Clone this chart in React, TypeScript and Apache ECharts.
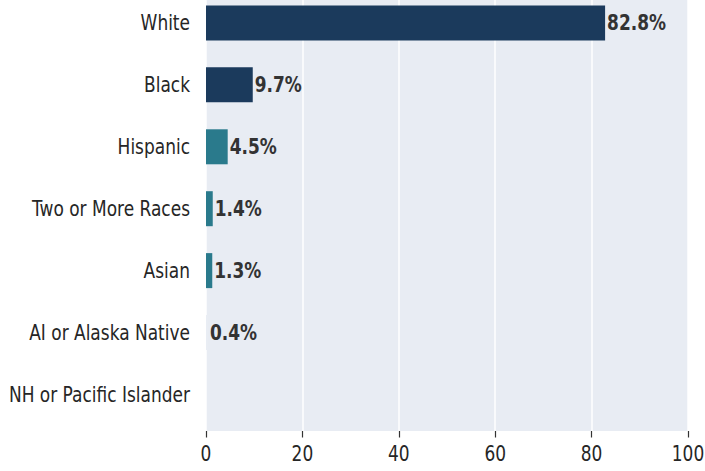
import React, { useEffect, useRef } from "react";
import * as echarts from "echarts";

const categories = [
  "White",
  "Black",
  "Hispanic",
  "Two or More Races",
  "Asian",
  "AI or Alaska Native",
  "NH or Pacific Islander",
];
const values = [82.8, 9.7, 4.5, 1.4, 1.3, 0.4, 0];
const barColors = ["#1b3a5c", "#1b3a5c", "#2a7a8c", "#2a7a8c", "#2a7a8c", "#e9edf4", "#e9edf4"];
const xTicks = [0, 20, 40, 60, 80, 100];

const W = 705;
const H = 471;
const SY = 1.27; // vertical stretch of the reference picture
const IH = H / SY;
const v = (px: number) => px / SY;

export default function App() {
  const ref = useRef<HTMLDivElement>(null);
  useEffect(() => {
    if (!ref.current) return;
    const chart = echarts.init(ref.current, undefined, { renderer: "svg" });
    const font = "DejaVu Sans";
    chart.setOption({
      animation: false,
      grid: [
        {
          left: 206,
          right: 17,
          top: v(-13.5),
          height: v(444.5),
          show: true,
          backgroundColor: "#e8ecf3",
          borderWidth: 0,
          outerBoundsMode: "none",
          containLabel: false,
        },
        {
          left: 206,
          right: 17,
          top: v(-8),
          height: v(433.4),
          outerBoundsMode: "none",
          containLabel: false,
        },
      ],
      xAxis: [
        {
          gridIndex: 0,
          type: "value",
          min: xTicks[0],
          max: xTicks[xTicks.length - 1],
          interval: 20,
          axisLine: { show: false },
          axisTick: { show: true, length: v(6.5), lineStyle: { color: "#333", width: 1.2 } },
          axisLabel: {
            fontFamily: font,
            fontSize: 17,
            color: "#262626",
            margin: v(12),
          },
          splitLine: { show: true, lineStyle: { color: "#ffffff", width: 1.5 } },
        },
        {
          gridIndex: 1,
          type: "value",
          min: xTicks[0],
          max: xTicks[xTicks.length - 1],
          show: false,
        },
      ],
      yAxis: [
        {
          gridIndex: 0,
          type: "value",
          show: false,
        },
        {
          gridIndex: 1,
          type: "category",
          data: categories,
          inverse: true,
          axisLine: { show: false },
          axisTick: { show: false },
          splitLine: { show: false },
          axisLabel: {
            fontFamily: font,
            fontSize: 17,
            color: "#262626",
            margin: 16,
          },
        },
      ],
      series: [
        {
          type: "bar",
          xAxisIndex: 1,
          yAxisIndex: 1,
          barWidth: v(35),
          data: values.map((val, i) => ({ value: val, itemStyle: { color: barColors[i] } })),
          label: {
            show: true,
            position: "right",
            distance: 2,
            fontFamily: font,
            fontSize: 17,
            fontWeight: "bold",
            color: "#333333",
            formatter: (p: any) => (p.value > 0 ? p.value.toFixed(1) + "%" : ""),
          },
        },
      ],
    });
    return () => chart.dispose();
  }, []);
  return (
    <div style={{ position: "absolute", left: 0, top: 0, width: W, height: H, overflow: "hidden", background: "#fff" }}>
      <div
        ref={ref}
        style={{ width: W, height: IH, transform: `scaleY(${SY})`, transformOrigin: "0 0" }}
      />
    </div>
  );
}
